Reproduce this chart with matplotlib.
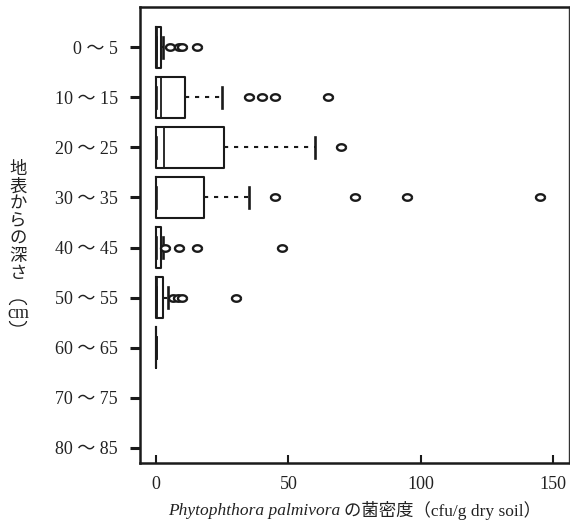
import numpy as np
import matplotlib
matplotlib.use('Agg')
import matplotlib.pyplot as plt
from matplotlib.path import Path
from matplotlib.patches import Arc

# depth classes (cm)
depths = ['0 〜 5', '10 〜 15', '20 〜 25', '30 〜 35', '40 〜 45',
          '50 〜 55', '60 〜 65', '70 〜 75', '80 〜 85']

# box statistics (cfu/g dry soil); last two classes have no data
q1s = [0, 0, 0, 0, 0, 0, 0]
medians = [0.5, 2, 3, 0, 0, 0.5, 0]
q3s = [1.8, 11, 25.5, 18, 1.8, 2.8, 0]
whis_lo = [0, 0, 0, 0, 0, 0, 0]
whis_hi = [2.5, 25, 60, 35, 2.5, 4.7, 0]
fliers = [[5.3, 8.8, 10, 15.4],
          [35, 40, 45, 65],
          [70],
          [45, 75, 95, 145],
          [3.5, 8.5, 15.5, 47.5],
          [6.3, 8.2, 10, 30.4],
          []]

xticks = [0, 50, 100, 150]

serif_jp = ['Liberation Serif', 'Noto Sans CJK JP']
plt.rcParams['font.family'] = serif_jp

stats = []
for i in range(len(q1s)):
    stats.append(dict(q1=q1s[i], med=medians[i], q3=q3s[i],
                      whislo=whis_lo[i], whishi=whis_hi[i],
                      fliers=np.array(fliers[i], dtype=float)))

# flattened oval marker for outliers
t = np.linspace(0, 2 * np.pi, 40)
oval = Path(np.column_stack([np.cos(t), 0.72 * np.sin(t)]))

fig = plt.figure(figsize=(5.7, 5.28), dpi=100)
ax = fig.add_axes([0.2456, 0.1231, 0.7526, 0.8636])

ax.bxp(stats, positions=range(len(stats)), orientation='horizontal',
       widths=0.82, capwidths=0.42,
       boxprops=dict(color='#1a1a1a', linewidth=1.5, solid_joinstyle='round'),
       medianprops=dict(color='#1a1a1a', linewidth=1.3),
       whiskerprops=dict(color='#1a1a1a', linewidth=1.5, linestyle=(0, (2, 2.8))),
       capprops=dict(color='#1a1a1a', linewidth=1.9),
       flierprops=dict(marker=oval, markersize=6.5, markerfacecolor='white',
                       markeredgecolor='#1a1a1a', markeredgewidth=1.7))

ax.set_xlim(-6.05, 156)
ax.set_ylim(8.3, -0.8)
ax.set_yticks(range(len(depths)))
ax.set_yticklabels(depths, fontsize=13, color='#222222')
ax.set_xticks(xticks)
ax.set_xticklabels([str(v) for v in xticks], fontsize=13, color='#222222')

ax.tick_params(axis='y', direction='out', length=7, width=2.2, pad=9, color='#1a1a1a')
ax.tick_params(axis='x', direction='in', length=6, width=1.5, pad=9, color='#1a1a1a')

for side in ['left', 'bottom', 'top']:
    ax.spines[side].set_linewidth(1.8)
    ax.spines[side].set_color('#1a1a1a')
ax.spines['right'].set_linewidth(1.0)
ax.spines['right'].set_color('#333333')

# y-axis label written vertically
lab_x = 18 / 570
fig.text(lab_x, 1 - 222 / 528, '地\n表\nか\nら\nの\n深\nさ',
         ha='center', va='center', multialignment='center',
         fontsize=12.5, linespacing=1.1, color='#222222')
fig.text(lab_x, 1 - 313 / 528, 'cm', ha='center', va='center',
         fontsize=13, color='#222222')
# vertical-writing parentheses around "cm"
fig.add_artist(Arc((lab_x, 1 - 305 / 528), 17 / 570, 10 / 528, theta1=0, theta2=180,
                   transform=fig.transFigure, color='#222222', linewidth=0.9))
fig.add_artist(Arc((lab_x, 1 - 321 / 528), 17 / 570, 10 / 528, theta1=180, theta2=360,
                   transform=fig.transFigure, color='#222222', linewidth=0.9))

# x-axis label: italic species name followed by Japanese text
xl_y = 1 - 511 / 528
fig.text(340 / 570, xl_y, 'Phytophthora palmivora', ha='right', va='center',
         fontsize=12.5, style='italic', family='Liberation Serif', color='#222222')
fig.text(344 / 570, xl_y, 'の菌密度（cfu/g dry soil）', ha='left', va='center',
         fontsize=12.5, color='#222222')

fig.savefig('out.png', dpi=100)
